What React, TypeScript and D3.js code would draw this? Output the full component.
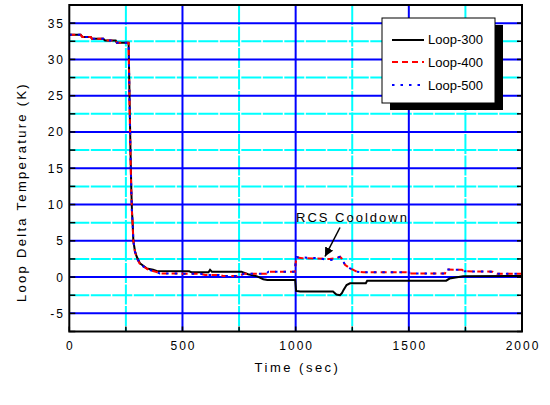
import { useEffect, useRef } from "react";
import * as d3 from "d3";

// Loop-300 (black solid)
const loop300T = [0, 50, 58, 95, 100, 150, 158, 205, 210, 262, 266, 270, 274, 277, 280, 283, 290, 298, 312, 330, 342, 370, 386, 530, 540, 615, 622, 630, 760, 790, 830, 857, 875, 998, 1002, 1020, 1165, 1180, 1196, 1205, 1211, 1225, 1240, 1310, 1316, 1665, 1680, 1700, 1740, 2000];
const loop300V = [33.4, 33.4, 33.1, 33.1, 32.85, 32.85, 32.6, 32.6, 32.3, 32.3, 25, 18, 12, 9, 7.4, 5, 3.6, 2.8, 1.9, 1.5, 1.2, 1.0, 0.85, 0.8, 0.65, 0.65, 1.0, 0.75, 0.75, 0.4, 0.1, -0.3, -0.4, -0.4, -1.9, -2.0, -2.0, -2.4, -2.5, -2.2, -1.8, -1.1, -0.85, -0.85, -0.5, -0.5, -0.2, -0.1, 0.1, 0.15];

// Loop-400 (red dashed)
const loop400T = [0, 50, 58, 95, 100, 150, 158, 205, 210, 262, 266, 270, 274, 277, 280, 283, 290, 298, 312, 330, 350, 386, 400, 580, 600, 660, 680, 750, 770, 870, 880, 996, 1000, 1004, 1030, 1150, 1180, 1196, 1205, 1218, 1240, 1255, 1270, 1300, 1500, 1510, 1660, 1667, 1735, 1745, 1870, 1890, 2000];
const loop400V = [33.4, 33.4, 33.1, 33.1, 32.85, 32.85, 32.6, 32.6, 32.3, 32.3, 24, 17, 11.5, 8.8, 7, 5, 3.5, 2.6, 1.8, 1.4, 1.0, 0.7, 0.5, 0.45, 0.3, 0.3, 0.15, 0.15, 0.45, 0.45, 0.75, 0.75, 1.9, 2.7, 2.6, 2.5, 2.6, 2.8, 2.5, 1.7, 1.2, 1.0, 0.75, 0.65, 0.65, 0.5, 0.5, 1.05, 1.0, 0.8, 0.75, 0.45, 0.45];

// Loop-500 (blue dotted)
const loop500T = [0, 50, 58, 95, 100, 150, 158, 205, 210, 262, 266, 270, 274, 277, 280, 283, 290, 298, 312, 330, 350, 386, 400, 580, 600, 660, 680, 750, 770, 870, 880, 996, 1000, 1004, 1100, 1140, 1165, 1185, 1196, 1205, 1218, 1240, 1255, 1270, 1300, 1500, 1510, 1660, 1667, 1735, 1745, 1870, 1890, 2000];
const loop500V = [33.4, 33.4, 33.1, 33.1, 32.85, 32.85, 32.6, 32.6, 32.3, 32.3, 24.5, 17.5, 11.8, 9, 7.2, 5, 3.5, 2.7, 1.8, 1.4, 1.0, 0.7, 0.5, 0.45, 0.3, 0.3, 0.15, 0.15, 0.45, 0.45, 0.75, 0.75, 2.0, 2.75, 2.6, 2.4, 2.35, 2.7, 2.8, 2.5, 1.7, 1.2, 1.0, 0.75, 0.65, 0.65, 0.5, 0.5, 1.05, 1.0, 0.8, 0.75, 0.45, 0.45];

const xTicks = [0, 500, 1000, 1500, 2000];
const yTicks = [-5, 0, 5, 10, 15, 20, 25, 30, 35];
const legendLabels = ["Loop-300", "Loop-400", "Loop-500"];

const FONT = "'Liberation Sans', Arial, sans-serif";

const App = () => {
  const ref = useRef<SVGSVGElement | null>(null);

  useEffect(() => {
    const svg = d3.select(ref.current);
    svg.selectAll("*").remove();

    const left = 69.3,
      right = 522,
      top = 5,
      bottom = 331.5;

    const x = d3.scaleLinear().domain([0, 2000]).range([left, right]);
    const y = d3.scaleLinear().domain([-7.5, 37.5]).range([bottom, top]);

    svg.append("rect").attr("width", 550).attr("height", 405).attr("fill", "#fff");

    // minor grid (cyan)
    const g = svg.append("g");
    d3.range(250, 2000, 500).forEach((t) => {
      g.append("line")
        .attr("x1", x(t)).attr("x2", x(t)).attr("y1", top).attr("y2", bottom)
        .attr("stroke", "#00ffff").attr("stroke-width", 2).attr("stroke-dasharray", "20,1.5");
    });
    d3.range(-2.5, 37.5, 5).forEach((v) => {
      g.append("line")
        .attr("x1", left).attr("x2", right).attr("y1", y(v)).attr("y2", y(v))
        .attr("stroke", "#00ffff").attr("stroke-width", 2).attr("stroke-dasharray", "20,1.5");
    });
    // major grid (blue)
    [500, 1000, 1500].forEach((t) => {
      g.append("line")
        .attr("x1", x(t)).attr("x2", x(t)).attr("y1", top).attr("y2", bottom)
        .attr("stroke", "#0000ff").attr("stroke-width", 2);
    });
    yTicks.forEach((v) => {
      g.append("line")
        .attr("x1", left).attr("x2", right).attr("y1", y(v)).attr("y2", y(v))
        .attr("stroke", "#0000ff").attr("stroke-width", 2);
    });

    // series
    const series = [
      { t: loop300T, v: loop300V, color: "#000", dash: null as string | null },
      { t: loop400T, v: loop400V, color: "#ff0000", dash: "6,4" },
      { t: loop500T, v: loop500V, color: "#0000ff", dash: "2.5,6" },
    ];
    const path = d3
      .line<[number, number]>()
      .x((d) => x(d[0]))
      .y((d) => y(d[1]));

    series.forEach((s) => {
      const pts: [number, number][] = s.t.map((t, i) => [t, s.v[i]]);
      svg.append("path")
        .attr("d", path(pts))
        .attr("fill", "none")
        .attr("stroke", s.color)
        .attr("stroke-width", 2)
        .attr("stroke-dasharray", s.dash);
    });

    // ticks
    d3.range(0, 2001, 250).forEach((t) => {
      svg.append("line")
        .attr("x1", x(t)).attr("x2", x(t)).attr("y1", bottom).attr("y2", bottom - 5)
        .attr("stroke", "#000").attr("stroke-width", 1.5);
    });
    d3.range(-7.5, 37.6, 2.5).forEach((v) => {
      svg.append("line")
        .attr("x1", left).attr("x2", left + 6).attr("y1", y(v)).attr("y2", y(v))
        .attr("stroke", "#000").attr("stroke-width", 1.5);
      svg.append("line")
        .attr("x1", right).attr("x2", right - 5).attr("y1", y(v)).attr("y2", y(v))
        .attr("stroke", "#000").attr("stroke-width", 1.5);
    });

    // frame
    svg.append("rect")
      .attr("x", left).attr("y", top).attr("width", right - left).attr("height", bottom - top)
      .attr("fill", "none").attr("stroke", "#000").attr("stroke-width", 2);

    // tick labels
    xTicks.forEach((t) => {
      svg.append("text")
        .attr("x", x(t) + 1).attr("y", 350)
        .attr("text-anchor", "middle")
        .style("font-family", FONT).style("font-size", "12px").style("letter-spacing", "2px")
        .text(t);
    });
    yTicks.forEach((v) => {
      svg.append("text")
        .attr("x", 65).attr("y", y(v) + 4.5)
        .attr("text-anchor", "end")
        .style("font-family", FONT).style("font-size", "12px").style("letter-spacing", "2px")
        .text(v);
    });

    // axis titles
    svg.append("text")
      .attr("x", 297.5).attr("y", 372)
      .attr("text-anchor", "middle")
      .style("font-family", FONT).style("font-size", "13px").style("letter-spacing", "2.5px")
      .text("Time (sec)");
    svg.append("text")
      .attr("transform", "translate(26,192) rotate(-90)")
      .attr("text-anchor", "middle")
      .style("font-family", FONT).style("font-size", "13px").style("letter-spacing", "2.3px")
      .text("Loop Delta Temperature (K)");

    // annotation
    svg.append("text")
      .attr("x", 296).attr("y", 222)
      .style("font-family", FONT).style("font-size", "13px").style("letter-spacing", "2px")
      .text("RCS Cooldown");
    const defs = svg.append("defs");
    defs.append("marker")
      .attr("id", "arrowhead")
      .attr("viewBox", "0 0 10 10")
      .attr("refX", 10).attr("refY", 5)
      .attr("markerWidth", 9).attr("markerHeight", 9)
      .attr("markerUnits", "userSpaceOnUse")
      .attr("orient", "auto")
      .append("path").attr("d", "M0,0L10,5L0,10Z").attr("fill", "#000");
    svg.append("line")
      .attr("x1", 340).attr("y1", 227.5).attr("x2", 325).attr("y2", 256.5)
      .attr("stroke", "#000").attr("stroke-width", 1.5)
      .attr("marker-end", "url(#arrowhead)");

    // legend
    const lx = 382, ly = 18, lw = 113, lh = 85;
    svg.append("rect").attr("x", lx + 8).attr("y", ly + 7).attr("width", lw).attr("height", lh).attr("fill", "#000");
    svg.append("rect").attr("x", lx).attr("y", ly).attr("width", lw).attr("height", lh)
      .attr("fill", "#fff").attr("stroke", "#000").attr("stroke-width", 1);
    const rowY = [40, 62, 85];
    legendLabels.forEach((lab, i) => {
      const s = series[i];
      svg.append("line")
        .attr("x1", 392).attr("x2", 424).attr("y1", rowY[i]).attr("y2", rowY[i])
        .attr("stroke", s.color).attr("stroke-width", 2)
        .attr("stroke-dasharray", s.dash);
      svg.append("text")
        .attr("x", 428).attr("y", rowY[i] + 3.5 + (i === 0 ? 0 : 1))
        .style("font-family", FONT).style("font-size", "13px")
        .text(lab);
    });
  }, []);

  return (
    <svg
      ref={ref}
      width={550}
      height={405}
      style={{ position: "absolute", left: 0, top: 0 }}
    />
  );
};

export default App;
